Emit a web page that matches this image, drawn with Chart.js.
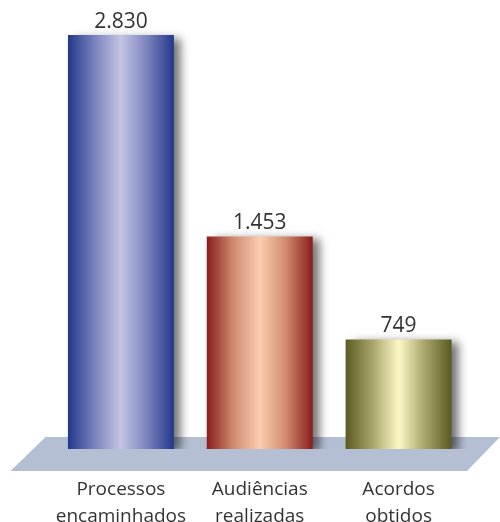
<!DOCTYPE html>
<html>
<head>
<meta charset="utf-8">
<script src="https://cdn.jsdelivr.net/npm/chart.js@4/dist/chart.umd.min.js"></script>
<style>
  html, body { margin: 0; padding: 0; background: #ffffff; }
  #wrap { width: 500px; height: 522px; position: relative; }
</style>
</head>
<body>
<div id="wrap"><canvas id="chart"></canvas></div>
<script>
// Category labels (two lines each) and values
const categories = [
  ['Processos', 'encaminhados'],
  ['Audiências', 'realizadas'],
  ['Acordos', 'obtidos']
];
const values = [2830, 1453, 749];

// Cylinder shading: edge colour, mid-tone, highlight
const barShades = [
  ['#22388c', '#7b82bd', '#c2c5e3'],
  ['#8a1c1c', '#cf8a6e', '#fbcdb0'],
  ['#5a5a22', '#a7a46a', '#fdf8c4']
];

const CAT_PCT = 0.763;
const fmt = v => String(v).replace(/\B(?=(\d{3})+(?!\d))/g, '.');

// Horizontal gradient spanning the bar's own width
function barFill(context) {
  const chart = context.chart;
  const xs = chart.scales.x;
  if (!xs || !chart.chartArea) return barShades[context.dataIndex][1];
  const [edge, mid, hi] = barShades[context.dataIndex];
  const cx = xs.getPixelForValue(context.dataIndex);
  const half = (xs.width / categories.length) * CAT_PCT / 2;
  const g = chart.ctx.createLinearGradient(cx - half, 0, cx + half, 0);
  g.addColorStop(0, edge);
  g.addColorStop(0.25, mid);
  g.addColorStop(0.5, hi);
  g.addColorStop(0.75, mid);
  g.addColorStop(1, edge);
  return g;
}

// Tilted floor under the bars
const floorPlugin = {
  id: 'floor',
  beforeDatasetsDraw(chart) {
    const { ctx } = chart;
    const x = chart.scales.x, y = chart.scales.y;
    const base = y.getPixelForValue(0);
    ctx.save();
    ctx.fillStyle = '#b4bfd4';
    ctx.beginPath();
    ctx.moveTo(x.left - 6, base - 12);
    ctx.lineTo(x.right + 32, base - 12);
    ctx.lineTo(x.right - 1, base + 22);
    ctx.lineTo(x.left - 41, base + 22);
    ctx.closePath();
    ctx.fill();
    ctx.restore();
  }
};

// Soft drop shadow behind the bars
const shadowPlugin = {
  id: 'barShadow',
  beforeDatasetDraw(chart) {
    const ctx = chart.ctx;
    ctx.save();
    ctx.shadowColor = 'rgba(0,0,0,0.55)';
    ctx.shadowBlur = 9;
    ctx.shadowOffsetX = 7;
    ctx.shadowOffsetY = 3;
  },
  afterDatasetDraw(chart) {
    chart.ctx.restore();
  }
};

// Value labels above each bar
const valuePlugin = {
  id: 'values',
  afterDatasetsDraw(chart) {
    const { ctx } = chart;
    ctx.save();
    ctx.font = '21px "Open Sans", sans-serif';
    ctx.fillStyle = '#333333';
    ctx.textAlign = 'center';
    ctx.textBaseline = 'alphabetic';
    chart.getDatasetMeta(0).data.forEach((el, i) => {
      ctx.fillText(fmt(values[i]), el.x, el.y - 7);
    });
    ctx.restore();
  }
};

new Chart(document.getElementById('chart'), {
  type: 'bar',
  data: {
    labels: categories,
    datasets: [{
      data: values,
      backgroundColor: barFill,
      borderWidth: 0,
      barPercentage: 1,
      categoryPercentage: CAT_PCT
    }]
  },
  options: {
    responsive: true,
    maintainAspectRatio: false,
    animation: false,
    layout: { padding: { left: 51.5, right: 32, top: 10, bottom: 0 } },
    plugins: { legend: { display: false }, tooltip: { enabled: false } },
    scales: {
      y: { display: false, min: 0, max: 3000 },
      x: {
        grid: { display: false },
        border: { display: false },
        afterFit(scale) { scale.height = 73; },
        ticks: {
          color: '#333333',
          padding: 19,
          maxRotation: 0,
          autoSkip: false,
          font: { family: '"Open Sans", sans-serif', size: 19, lineHeight: 1.42 }
        }
      }
    }
  },
  plugins: [floorPlugin, shadowPlugin, valuePlugin]
});
</script>
</body>
</html>
